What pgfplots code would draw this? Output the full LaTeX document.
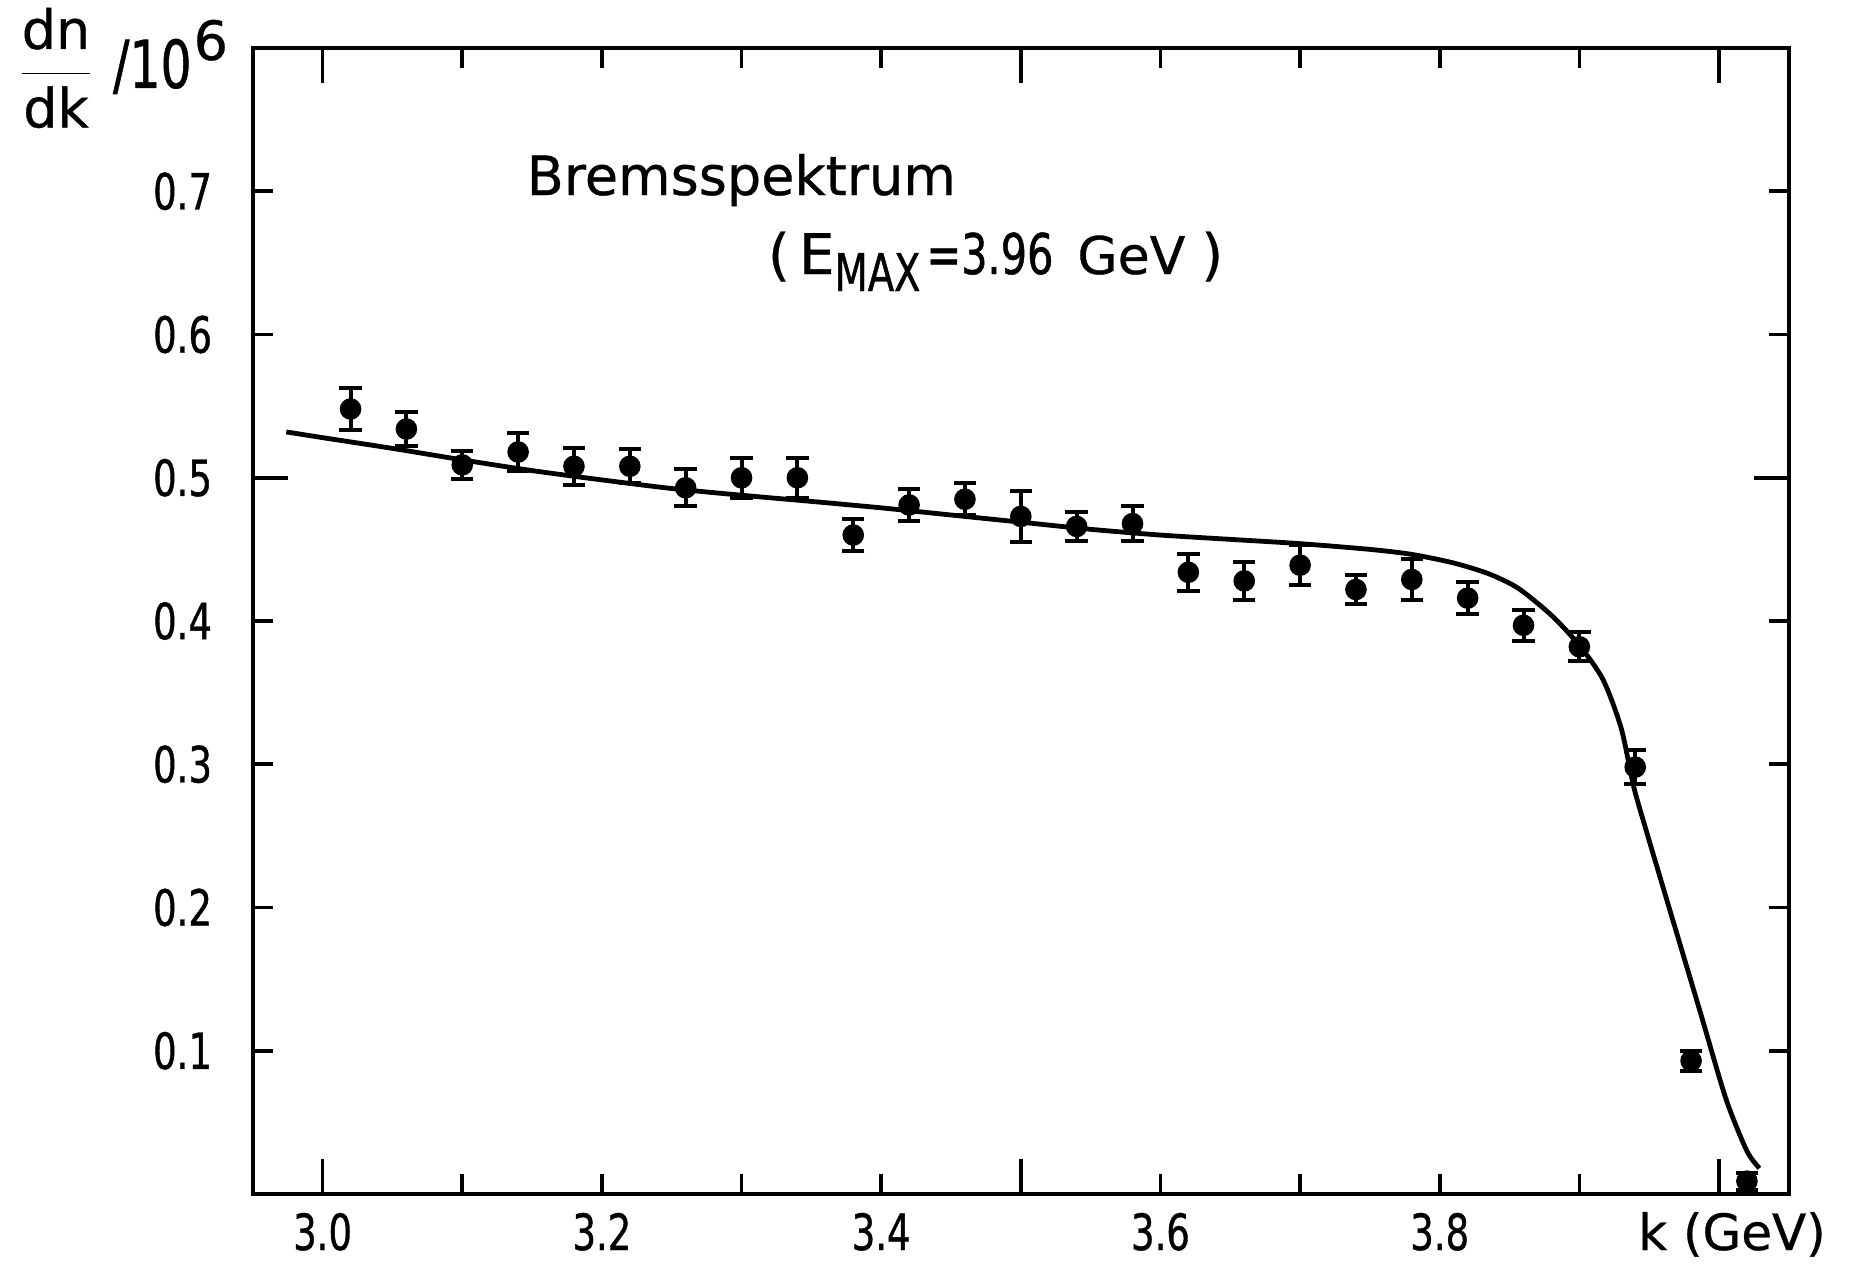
\documentclass[border=0pt]{standalone}
\usepackage{pgfplots}
\usepackage{pgfplotstable}
\pgfplotsset{compat=1.18}
\usepackage{fontspec}
\setmainfont[FakeBold=0.6]{DejaVu Sans}
\newfontfamily\numfont[FakeStretch=0.74, FakeBold=0.8]{DejaVu Sans}

\pgfplotstableread{
x y ey
3.02 0.548 0.015
3.06 0.534 0.012
3.10 0.509 0.010
3.14 0.518 0.013
3.18 0.508 0.013
3.22 0.508 0.012
3.26 0.493 0.013
3.30 0.500 0.014
3.34 0.500 0.014
3.38 0.460 0.011
3.42 0.481 0.011
3.46 0.485 0.011
3.50 0.473 0.018
3.54 0.466 0.010
3.58 0.468 0.012
3.62 0.434 0.013
3.66 0.428 0.013
3.70 0.439 0.014
3.74 0.422 0.010
3.78 0.429 0.014
3.82 0.416 0.011
3.86 0.397 0.011
3.90 0.382 0.010
3.94 0.298 0.012
3.98 0.093 0.007
4.02 0.009 0.006
}\datatable

\pgfplotstableread{
x y
2.974 0.532
3.000 0.528
3.050 0.5205
3.100 0.5125
3.150 0.5050
3.200 0.4985
3.250 0.4925
3.300 0.4878
3.350 0.4835
3.400 0.4790
3.450 0.4740
3.500 0.4690
3.550 0.4640
3.600 0.4600
3.650 0.4570
3.700 0.4540
3.750 0.4500
3.780 0.4465
3.810 0.4405
3.835 0.4330
3.856 0.4230
3.880 0.4040
3.900 0.3830
3.917 0.3590
3.930 0.3250
3.939 0.2840
3.949 0.2500
3.967 0.1910
3.987 0.1256
4.005 0.0663
4.020 0.0300
4.029 0.0180
}\curvetable

\begin{document}
\begin{tikzpicture}
\useasboundingbox (-63.2pt,-18.5pt) rectangle (399.3pt,298.5pt);
\begin{axis}[
  scale only axis, width=384pt, height=286.5pt,
  xmin=2.95, xmax=4.05, ymin=0, ymax=0.8,
  clip=false,
  axis line style={line width=1.1pt},
  tick align=inside,
  xtick pos=both, ytick pos=both,
  xtick={3.0,3.1,3.2,3.3,3.4,3.5,3.6,3.7,3.8,3.9,4.0},
  xticklabels={3.0,,3.2,,3.4,,3.6,,3.8,,},
  ytick={0.1,0.2,0.3,0.4,0.5,0.6,0.7},
  yticklabels={0.1,0.2,0.3,0.4,0.5,0.6,0.7},
  major tick length=5pt,
  every tick/.style={line width=0.9pt, black},
  extra x ticks={3.0,3.5,4.0}, extra x tick labels={,,},
  extra y ticks={0.5}, extra y tick labels={,},
  extra tick style={major tick length=8.75pt},
  xticklabel style={font=\numfont\fontsize{12.5}{14}\selectfont, anchor=base, yshift=-14pt, inner sep=0pt},
  yticklabel style={font=\numfont\fontsize{12.5}{14}\selectfont, anchor=east, xshift=-10pt, inner sep=0pt},
]
\addplot[black, line width=1.2pt, smooth, tension=0.45] table[x=x, y=y] {\curvetable};
\addplot[only marks, mark=*, mark size=2.5pt, black,
  error bars/.cd, y dir=both, y explicit,
  error bar style={line width=1pt},
  error mark options={rotate=90, mark size=2.8pt, line width=1pt}]
  table[x=x, y=y, y error=ey] {\datatable};

\node[anchor=base west, inner sep=0, font=\fontsize{13.5}{16}\selectfont]
  at ([xshift=68.3pt, yshift=249.75pt] rel axis cs:0,0) {Bremsspektrum};
\node[anchor=base west, inner sep=0, font=\fontsize{14}{16}\selectfont]
  at ([xshift=128.6pt, yshift=230pt] rel axis cs:0,0)
  {(\,E\raisebox{-4.25pt}{\numfont\fontsize{13}{14}\selectfont MAX}\hspace{1.5pt}{\numfont =3.96}\hspace{6pt}{\fontsize{13}{16}\selectfont GeV}\hspace{4pt})};
\node[anchor=base, inner sep=0, font=\fontsize{12.5}{14}\selectfont]
  at ([xshift=369.8pt, yshift=-14pt] rel axis cs:0,0) {k (GeV)};
\node[anchor=east, inner sep=0]
  at ([xshift=-6pt, yshift=-5pt] rel axis cs:0,1)
  {{\fontsize{13.5}{15}\selectfont$\displaystyle\frac{\mbox{dn}}{\mbox{dk}}$}\hspace{4.5pt}{\numfont\fontsize{16.5}{18}\selectfont/10}\hspace{0.5pt}\raisebox{7pt}{\fontsize{13.5}{14}\selectfont 6}};
\end{axis}
\end{tikzpicture}
\end{document}
